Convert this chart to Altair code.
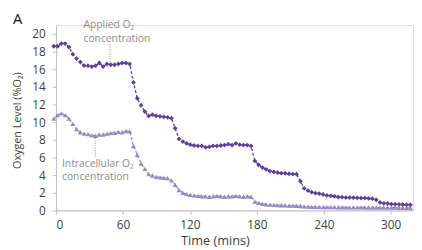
import altair as alt
import pandas as pd

time_mins = [-2.0, 1.4, 4.8, 8.2, 11.6, 15.0, 18.4, 21.8, 25.2, 28.6,
             32.0, 35.4, 38.8, 42.2, 45.6, 49.0, 52.4, 55.8, 59.2, 62.6,
             66.0, 69.4, 72.8, 76.2, 79.6, 83.0, 86.4, 89.8, 93.2, 96.6,
             100.0, 103.4, 106.8, 110.2, 113.6, 117.0, 120.4, 123.8, 127.2, 130.6,
             134.0, 137.4, 140.8, 144.2, 147.6, 151.0, 154.4, 157.8, 161.2, 164.6,
             168.0, 171.4, 174.8, 178.2, 181.6, 185.0, 188.4, 191.8, 195.2, 198.6,
             202.0, 205.4, 208.8, 212.2, 215.6, 219.0, 222.4, 225.8, 229.2, 232.6,
             236.0, 239.4, 242.8, 246.2, 249.6, 253.0, 256.4, 259.8, 263.2, 266.6,
             270.0, 273.4, 276.8, 280.2, 283.6, 287.0, 290.4, 293.8, 297.2, 300.6,
             304.0, 307.4, 310.8, 314.2, 317.6]

applied = [18.6, 18.6, 18.9, 18.9, 18.5, 17.7, 17.2, 16.8, 16.4, 16.4,
           16.3, 16.4, 16.7, 16.3, 16.6, 16.5, 16.5, 16.6, 16.7, 16.7,
           16.6, 14.5, 12.7, 11.9, 11.2, 10.7, 10.85, 10.7, 10.65, 10.6,
           10.55, 10.45, 9.3, 8.1, 7.8, 7.6, 7.45, 7.35, 7.3, 7.3,
           7.15, 7.2, 7.3, 7.3, 7.35, 7.4, 7.5, 7.4, 7.6, 7.45,
           7.4, 7.4, 7.3, 5.6, 5.15, 4.85, 4.65, 4.45, 4.35, 4.28,
           4.22, 4.2, 4.15, 4.12, 4.1, 3.3, 2.5, 2.25, 2.07, 1.95,
           1.9, 1.8, 1.7, 1.65, 1.6, 1.52, 1.5, 1.45, 1.45, 1.44,
           1.42, 1.4, 1.4, 1.36, 1.33, 1.2, 0.9, 0.8, 0.78, 0.72,
           0.7, 0.68, 0.67, 0.65, 0.63]

intracellular = [10.4, 10.8, 11.0, 10.8, 10.4, 9.8, 9.2, 8.85, 8.7, 8.65,
                 8.5, 8.45, 8.6, 8.6, 8.7, 8.75, 8.8, 8.9, 8.85, 9.0,
                 8.95, 7.3, 6.3, 5.3, 4.7, 4.1, 3.95, 3.8, 3.75, 3.7,
                 3.65, 3.4, 2.9, 2.3, 2.0, 1.85, 1.75, 1.7, 1.65, 1.6,
                 1.6, 1.55, 1.6, 1.65, 1.6, 1.55, 1.6, 1.6, 1.65, 1.6,
                 1.55, 1.6, 1.55, 1.0, 0.85, 0.75, 0.7, 0.65, 0.62, 0.6,
                 0.58, 0.56, 0.55, 0.55, 0.53, 0.5, 0.45, 0.42, 0.4, 0.4,
                 0.39, 0.38, 0.38, 0.37, 0.37, 0.36, 0.36, 0.35, 0.35, 0.35,
                 0.34, 0.34, 0.34, 0.33, 0.33, 0.33, 0.32, 0.32, 0.32, 0.31,
                 0.31, 0.3, 0.3, 0.3, 0.3]

x_ticks = [0, 60, 120, 180, 240, 300]
y_ticks = [0, 2, 4, 6, 8, 10, 12, 14, 16, 18, 20]

ann_text = ["Applied O\u2082", "concentration", "Intracellular O\u2082", "concentration"]
ann_x = [24.6, 24.6, 5.3, 5.3]
ann_y = [21.0, 19.45, 5.25, 3.75]

lead_x = [48.4, 35.2]
lead_y1 = [18.85, 8.2]
lead_y2 = [16.7, 6.15]

FONT = "Open Sans"
UPPER = "#5b3f99"
LOWER = "#9887c6"

df_app = pd.DataFrame({"t": time_mins, "v": applied})
df_int = pd.DataFrame({"t": time_mins, "v": intracellular})
df_ann = pd.DataFrame({"t": ann_x, "v": ann_y, "label": ann_text})
df_lead = pd.DataFrame({"t": lead_x, "v": lead_y1, "v2": lead_y2})

xs = alt.Scale(domain=[0, 320], nice=False, zero=False)
ys = alt.Scale(domain=[0, 21], nice=False)

x_enc = alt.X("t:Q", scale=xs, axis=alt.Axis(
    values=x_ticks, title="Time (mins)", grid=False, labelOverlap=False,
    labelFont=FONT, labelFontSize=12, labelColor="#404040", labelPadding=5,
    tickColor="#bfbfbf", domainColor="#bfbfbf", tickSize=4,
    titleFont=FONT, titleFontSize=13, titleFontWeight="normal", titleColor="#404040",
    titleX=162, titleY=31, titleBaseline="middle", titleAlign="center"))
y_enc = alt.Y("v:Q", scale=ys, axis=alt.Axis(
    values=y_ticks, title="Oxygen Level (%O\u2082)", grid=False, labelOverlap=False,
    labelFont=FONT, labelFontSize=12, labelColor="#404040", labelPadding=7,
    tickColor="#bfbfbf", domainColor="#bfbfbf", tickSize=4,
    titleFont=FONT, titleFontSize=11, titleFontWeight="normal", titleColor="#404040",
    titleX=-39, titleY=97, titleAngle=270, titleBaseline="middle", titleAlign="center"))

def series(df, color, shape, size):
    line = alt.Chart(df).mark_line(color=color, strokeWidth=1.3, strokeDash=[3, 2]).encode(x=x_enc, y=y_enc)
    pts = alt.Chart(df).mark_point(color=color, shape=shape, filled=True, size=size, opacity=1).encode(x=x_enc, y=y_enc)
    return line + pts

leads = alt.Chart(df_lead).mark_rule(color="#8c8c8c", strokeWidth=1, strokeDash=[1, 1.5]).encode(
    x=x_enc, y=y_enc, y2="v2:Q")

ann = alt.Chart(df_ann).mark_text(align="left", baseline="middle", font=FONT, fontSize=10.5, color="#8c8c8c").encode(
    x=x_enc, y=y_enc, text="label:N")

letter = alt.Chart(pd.DataFrame({"label": ["A"]})).mark_text(
    align="left", baseline="alphabetic", font=FONT, fontSize=15, color="#111111").encode(
    x=alt.value(-44), y=alt.value(-1), text="label:N")

chart = alt.layer(
    series(df_int, LOWER, "triangle-up", 26),
    series(df_app, UPPER, "diamond", 24),
    leads,
    ann,
    letter,
).properties(
    width=364, height=189,
    autosize=alt.AutoSizeParams(type="none"),
    padding={"left": 49, "top": 15, "right": 1, "bottom": 38},
).configure_axis(labelOverlap=False).configure_view(stroke=None).configure(background="white")

chart.save("out.html", embed_options={"renderer": "svg", "actions": False})
